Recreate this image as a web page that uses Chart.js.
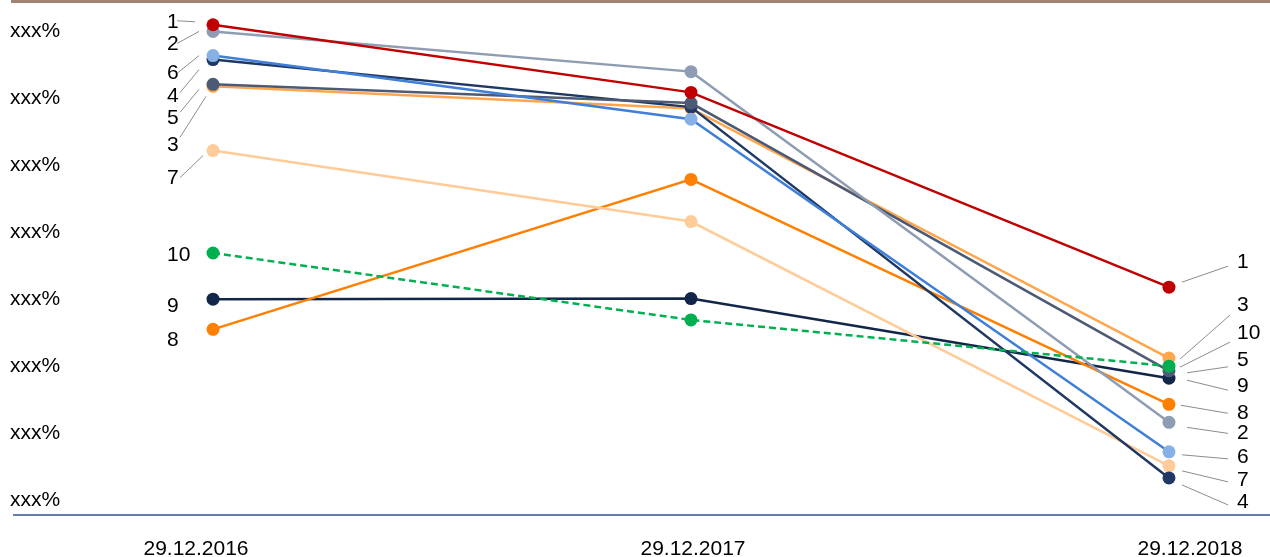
<!DOCTYPE html>
<html>
<head>
<meta charset="utf-8">
<script src="https://cdn.jsdelivr.net/npm/chart.js@4"></script>
<style>
  body { margin: 0; background: #fff; }
  .main-chart { width: 1270px; height: 557px; position: relative; }
</style>
</head>
<body>
<div class="main-chart"><canvas id="c"></canvas></div>
<script>
const categories = ['29.12.2016', '29.12.2017', '29.12.2018'];
const yTickLabels = ['xxx%', 'xxx%', 'xxx%', 'xxx%', 'xxx%', 'xxx%', 'xxx%', 'xxx%'];
const seriesNames = ['1', '2', '3', '4', '5', '6', '7', '8', '9', '10'];

const s1 = [7.10, 6.09, 3.18];
const s2 = [7.00, 6.40, 1.16];
const s3 = [6.18, 5.85, 2.12];
const s4 = [6.58, 5.87, 0.33];
const s5 = [6.21, 5.93, 1.93];
const s6 = [6.64, 5.69, 0.72];
const s7 = [5.22, 4.16, 0.51];
const s8 = [2.55, 4.79, 1.43];
const s9 = [3.00, 3.01, 1.82];
const s10 = [3.69, 2.69, 2.00];
const seriesValues = [s1, s2, s3, s4, s5, s6, s7, s8, s9, s10];

// styles
const lineColors = ['#C00000', '#8E9DB3', '#FFA64D', '#1F3864', '#4D5A75', '#3F7FD8', '#FFCC99', '#FF7F00', '#12264A', '#00B050'];
const markColors = ['#C00000', '#8E9DB3', '#FFA64D', '#1F3864', '#4D5A75', '#86B0E6', '#FFCC99', '#FF7F00', '#12264A', '#00B050'];
const drawOrder = [1, 2, 6, 5, 4, 3, 7, 8, 9, 0];

// label offsets from the first / last point: [dy, leader x1,y1,x2,y2]
const leftLabels = [
    [-3, [-36, -4, -18, -3]],
    [13, [-36, 12, -14, 0]],
    [59, [-33, 51, -7, 10]],
    [37, [-33, 33, -14, 10]],
    [34, [-33, 28, -14, 5]],
    [18, [-35, 17, -14, 0]],
    [28, [-33, 27, -10, 5]],
    [11, null],
    [7, null],
    [2, null]
];
const rightLabels = [
    [-25, [13, -5, 59, -21]],
    [11, [18, 5, 59, 11]],
    [-53, [11, 1, 61, -43]],
    [24, [13, 7, 59, 27]],
    [-11, [18, 2, 59, -4]],
    [5, [13, 3, 59, 7]],
    [14, [13, 5, 59, 16]],
    [9, [12, 1, 59, 9]],
    [8, [18, 2, 59, 12]],
    [-33, [11, 1, 61, -24]]
];

const FONT = 'Liberation Sans, Arial, sans-serif';

const frame = {
    id: 'frame',
    beforeDraw(chart) {
        const c = chart.ctx;
        c.save();
        c.strokeStyle = '#A08572';
        c.lineWidth = 3;
        c.beginPath(); c.moveTo(11, 1.5); c.lineTo(1270, 1.5); c.stroke();
        c.strokeStyle = '#2F5597';
        c.lineWidth = 1.5;
        const yb = chart.chartArea.bottom;
        c.beginPath(); c.moveTo(13, yb); c.lineTo(1270, yb); c.stroke();
        c.restore();
    }
};

const endLabels = {
    id: 'endLabels',
    afterDatasetsDraw(chart) {
        const c = chart.ctx;
        c.save();
        c.font = '21px ' + FONT;
        c.textBaseline = 'middle';
        c.textAlign = 'left';
        seriesNames.forEach(function(name, i) {
            const pts = chart.getDatasetMeta(i).data;
            [[pts[0], leftLabels[i], -46], [pts[pts.length - 1], rightLabels[i], 68]].forEach(function(item) {
                const p = item[0], lab = item[1];
                if (lab[1]) {
                    const l = lab[1];
                    c.strokeStyle = '#8C8C8C';
                    c.lineWidth = 1;
                    c.beginPath();
                    c.moveTo(p.x + l[0], p.y + l[1]);
                    c.lineTo(p.x + l[2], p.y + l[3]);
                    c.stroke();
                }
                c.fillStyle = '#000';
                c.fillText(name, p.x + item[2], p.y + lab[0]);
            });
        });
        c.restore();
    }
};

const datasets = seriesValues.map(function(vals, i) {
    return {
        label: seriesNames[i],
        data: vals.map(function(v, j) { return { x: j, y: v }; }),
        xAxisID: 'xp',
        yAxisID: 'y',
        borderColor: lineColors[i],
        backgroundColor: markColors[i],
        pointBackgroundColor: markColors[i],
        pointBorderWidth: 0,
        pointRadius: 6.5,
        borderWidth: 2.5,
        borderDash: i === 9 ? [7, 4] : [],
        tension: 0,
        order: drawOrder[i]
    };
});

new Chart(document.getElementById('c'), {
    type: 'line',
    data: { labels: categories, datasets: datasets },
    options: {
        responsive: true,
        maintainAspectRatio: false,
        animation: false,
        events: [],
        layout: { padding: { left: 10, right: 80, top: 2, bottom: 0 } },
        plugins: { legend: { display: false }, tooltip: { enabled: false } },
        scales: {
            x: {
                type: 'category',
                offset: false,
                grid: { display: false, drawTicks: false },
                border: { display: false },
                ticks: { color: '#000', font: { family: FONT, size: 21 }, padding: 22, maxRotation: 0 },
                afterFit(s) { s.height = 42; }
            },
            xp: {
                type: 'linear',
                display: false,
                min: -0.0356,
                max: 2.044
            },
            y: {
                min: -0.224,
                max: 7.373,
                grid: { display: false, drawTicks: false },
                border: { display: false },
                afterBuildTicks(s) {
                    s.ticks = yTickLabels.map(function(t, k) { return { value: k }; });
                },
                ticks: {
                    color: '#000',
                    crossAlign: 'far',
                    font: { family: FONT, size: 21 },
                    callback: function(v, k) { return yTickLabels[k]; }
                },
                afterFit(s) { s.width = 186; s.paddingTop = 0; s.paddingBottom = 0; }
            }
        }
    },
    plugins: [frame, endLabels]
});
</script>
</body>
</html>
